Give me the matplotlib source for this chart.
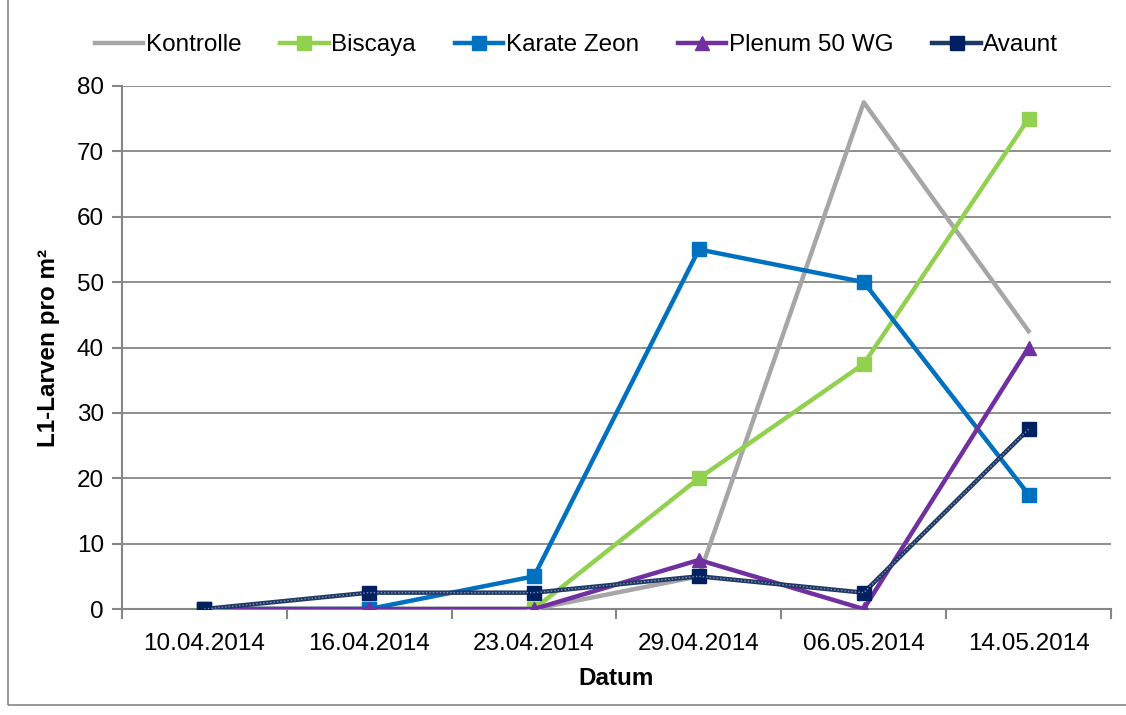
import matplotlib
matplotlib.use("Agg")
import matplotlib.pyplot as plt
from matplotlib.patches import Rectangle

plt.rcParams['font.family'] = ['Liberation Sans', 'DejaVu Sans']

dates = ["10.04.2014", "16.04.2014", "23.04.2014", "29.04.2014", "06.05.2014", "14.05.2014"]
kontrolle = [0, 0, 0, 5, 77.5, 42.5]
biscaya = [0, 0, 0, 20, 37.5, 75]
karate = [0, 0, 5, 55, 50, 17.5]
plenum = [0, 0, 0, 7.5, 0, 40]
avaunt = [0, 2.5, 2.5, 5, 2.5, 27.5]

FS = 17.5
fig = plt.figure(figsize=(11.26, 7.15), dpi=100)
ax = fig.add_axes([122/1126, 1-609/715, (1111-122)/1126, (609-86)/715])

x = list(range(len(dates)))
lw = 3.2
ms = 10
ax.plot(x, kontrolle, color='#a6a6a6', lw=lw, label='Kontrolle', zorder=3)
ax.plot(x, biscaya, color='#92d050', lw=lw, marker='s', ms=ms, label='Biscaya', zorder=3)
ax.plot(x, karate, color='#0070c0', lw=lw, marker='s', ms=ms, label='Karate Zeon', zorder=3)
ax.plot(x, plenum, color='#7030a0', lw=lw, marker='^', ms=ms, label='Plenum 50 WG', zorder=4)
ax.plot(x, avaunt, color='#1f3864', lw=lw, marker='s', ms=ms, mfc='#002060', mec='#002060',
        label='Avaunt', zorder=5)
ax.plot(x, avaunt, color='#8090b8', lw=1.0, linestyle=(0, (1, 1.5)), zorder=6)

ax.set_xlim(-0.5, 5.5)
ax.set_ylim(0, 80)
ax.set_yticks(range(0, 81, 10))
ax.set_xticks(x)
ax.set_xticklabels(dates)
ax.set_xticks([i - 0.5 for i in range(7)], minor=True)
ax.tick_params(axis='x', which='major', length=0, labelsize=FS, pad=17)
ax.tick_params(axis='x', which='minor', length=7, color='#868686', width=1.5)
ax.tick_params(axis='y', length=7, color='#868686', width=1.5, labelsize=FS, pad=6)
ax.grid(axis='y', color='#868686', lw=1.3, zorder=0)
for s in ['top', 'right']:
    ax.spines[s].set_visible(False)
for s in ['left', 'bottom']:
    ax.spines[s].set_color('#868686')
    ax.spines[s].set_linewidth(1.5)

ax.set_xlabel('Datum', fontsize=FS, fontweight='bold', labelpad=9)
ax.set_ylabel('L1-Larven pro m²', fontsize=FS, fontweight='bold', labelpad=12)

leg = fig.legend(loc='upper center', bbox_to_anchor=(0.512, 0.983), ncol=5, frameon=False,
                 fontsize=FS, handlelength=2.0, handletextpad=0.1, columnspacing=1.6)

fig.patches.append(Rectangle((8/1126, 10/715), 1.0, 1.0, transform=fig.transFigure,
                             fill=False, edgecolor='#868686', lw=1.2))

fig.savefig('out.png', dpi=100)
